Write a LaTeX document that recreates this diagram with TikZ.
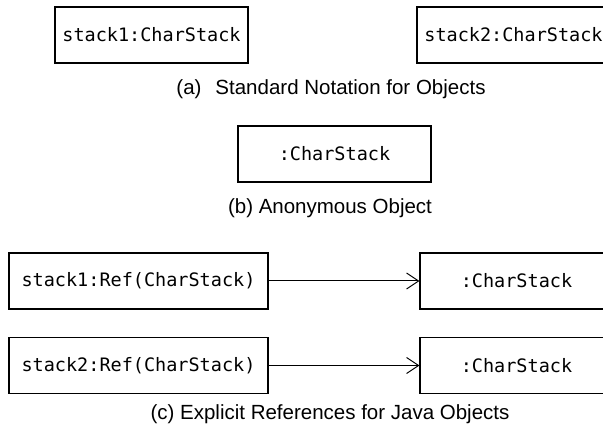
\documentclass[tikz,border=0pt]{standalone}
\usepackage{fontspec}
\setmainfont{Liberation Sans}
\setmonofont{DejaVu Sans Mono}
\usetikzlibrary{arrows.meta}

\begin{document}
\begin{tikzpicture}[x=1pt, y=1pt,
										obj/.style={draw, line width=1.1pt, inner sep=0pt,
											minimum width=193pt, minimum height=56pt,
											font=\fontsize{18.5}{22}\selectfont\ttfamily},
										refobj/.style={obj, minimum width=259pt},
										caption/.style={anchor=base, inner sep=0pt,
											font=\fontsize{20.5}{24}\selectfont},
										link/.style={line width=1pt, -{Straight Barb[length=12pt, width=16pt]}}]
	\clip (0,0) rectangle (603,426);
	% (a) standard notation
	\node [obj] (stackone) at (151.5,391) {stack1:CharStack};
	\node [obj] (stacktwo) at (513.5,391) {stack2:CharStack};
	\node [caption] (capa) at (331,331) {(a)\hspace{14pt}Standard Notation for Objects};
	% (b) anonymous object
	\node [obj] (anon) at (334.5,272) {:CharStack};
	\node [caption] (capb) at (330,212) {(b) Anonymous Object};
	% (c) explicit references
	\node [refobj] (refone) at (138.5,145) {stack1:Ref(CharStack)};
	\node [refobj] (reftwo) at (138.5,60.5) {stack2:Ref(CharStack)};
	\node [obj] (targetone) at (516.5,145) {:CharStack};
	\node [obj] (targettwo) at (516.5,60.5) {:CharStack};
	\draw [link] (refone) -- (targetone);
	\draw [link] (reftwo) -- (targettwo);
	\node [caption] (capc) at (330,6) {(c) Explicit References for Java Objects};
\end{tikzpicture}
\end{document}
